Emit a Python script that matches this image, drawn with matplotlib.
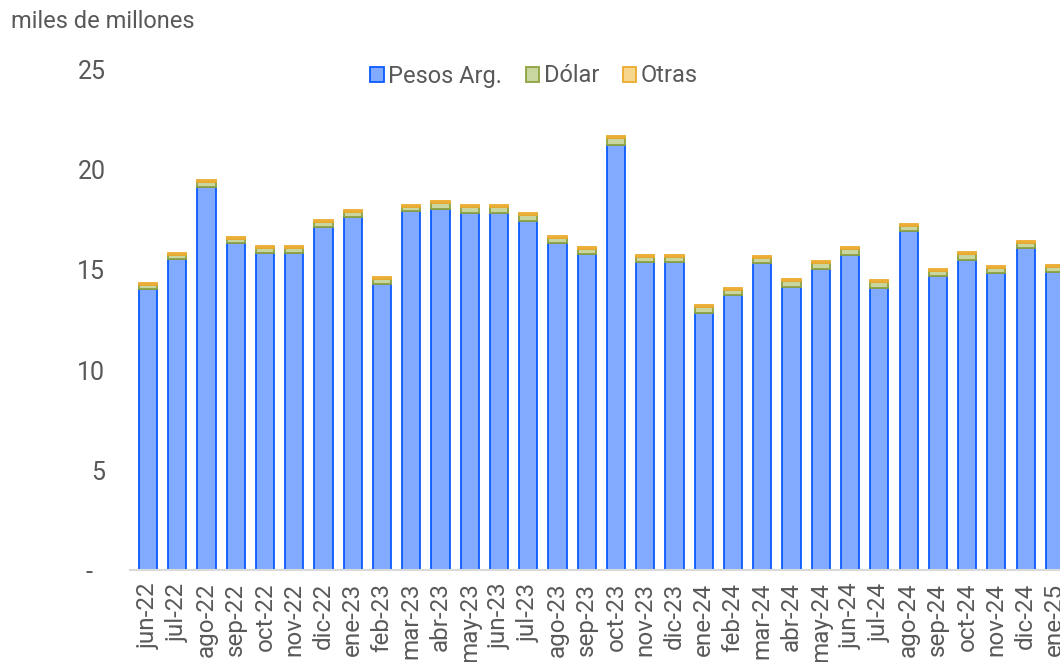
import matplotlib
matplotlib.use("Agg")
import matplotlib.pyplot as plt
from matplotlib.patches import Patch
import numpy as np

# =========================
# DATA
# =========================
meses = [
    "jun-22", "jul-22", "ago-22", "sep-22", "oct-22", "nov-22", "dic-22", "ene-23",
    "feb-23", "mar-23", "abr-23", "may-23", "jun-23", "jul-23", "ago-23", "sep-23",
    "oct-23", "nov-23", "dic-23", "ene-24", "feb-24", "mar-24", "abr-24", "may-24",
    "jun-24", "jul-24", "ago-24", "sep-24", "oct-24", "nov-24", "dic-24", "ene-25",
]
pesos = [
    14.03, 15.53, 19.15, 16.33, 15.85, 15.85, 17.17, 17.67,
    14.32, 17.93, 18.03, 17.87, 17.83, 17.47, 16.33, 15.80,
    21.27, 15.42, 15.42, 12.87, 13.75, 15.33, 14.13, 15.05,
    15.75, 14.10, 16.93, 14.70, 15.48, 14.83, 16.08, 14.88,
]
dolar = [
    0.20, 0.22, 0.25, 0.22, 0.25, 0.25, 0.23, 0.23,
    0.23, 0.22, 0.30, 0.26, 0.30, 0.28, 0.27, 0.27,
    0.33, 0.23, 0.23, 0.28, 0.25, 0.25, 0.30, 0.28,
    0.28, 0.28, 0.27, 0.25, 0.32, 0.25, 0.25, 0.25,
]
otras = [
    0.10, 0.10, 0.10, 0.10, 0.10, 0.10, 0.10, 0.10,
    0.10, 0.10, 0.12, 0.10, 0.12, 0.10, 0.10, 0.10,
    0.10, 0.10, 0.10, 0.10, 0.10, 0.10, 0.10, 0.10,
    0.10, 0.10, 0.10, 0.10, 0.10, 0.10, 0.10, 0.10,
]

# =========================
# PLOT
# =========================
plt.rcParams["font.family"] = ["Roboto", "DejaVu Sans"]
gris = "#595959"

fig = plt.figure(figsize=(10.6, 6.62), dpi=100)
ax = fig.add_axes([130.4 / 1060, 92 / 662, 942 / 1060, 500 / 662])

x = np.arange(len(meses))
p = np.array(pesos)
d = np.array(dolar)
o = np.array(otras)

ax.bar(x, p, width=0.62, color="#82AAFF", edgecolor="#0A5AFF", linewidth=1.3, label="Pesos Arg.")
ax.bar(x, d, bottom=p, width=0.62, color="#C9D6A0", edgecolor="#8FA33F", linewidth=1.3, label="Dólar")
ax.bar(x, o, bottom=p + d, width=0.62, color="#F7D68E", edgecolor="#EBAA2E", linewidth=1.3, label="Otras")

ax.set_xlim(-0.6, 31.6)
ax.set_ylim(0, 25)
ax.set_yticks([0, 5, 10, 15, 20, 25])
ax.set_yticklabels(["-  ", "5", "10", "15", "20", "25"])
ax.set_xticks(x)
ax.set_xticklabels(meses, rotation=90)
ax.tick_params(axis="both", length=0, colors=gris)
ax.tick_params(axis="y", pad=18, labelsize=18)
ax.tick_params(axis="x", pad=9, labelsize=17.5)

for s in ["top", "right", "left"]:
    ax.spines[s].set_visible(False)
ax.spines["bottom"].set_color("#D9D9D9")
ax.spines["bottom"].set_linewidth(1.5)

handles = [
    Patch(facecolor="#82AAFF", edgecolor="#0A5AFF", linewidth=1.3, label="Pesos Arg."),
    Patch(facecolor="#C9D6A0", edgecolor="#8FA33F", linewidth=1.3, label="Dólar"),
    Patch(facecolor="#F7D68E", edgecolor="#EBAA2E", linewidth=1.3, label="Otras"),
]
leg = fig.legend(handles=handles, loc="center", bbox_to_anchor=(534 / 1060, 1 - 76 / 662),
                 ncol=3, frameon=False, fontsize=17, handlelength=0.58, handleheight=0.58,
                 handletextpad=0.18, columnspacing=1.0)
for t in leg.get_texts():
    t.set_color(gris)

fig.text(11 / 1060, 1 - 22 / 662, "miles de millones", fontsize=17, color=gris, va="center", ha="left")

fig.savefig("out.png", dpi=100)
